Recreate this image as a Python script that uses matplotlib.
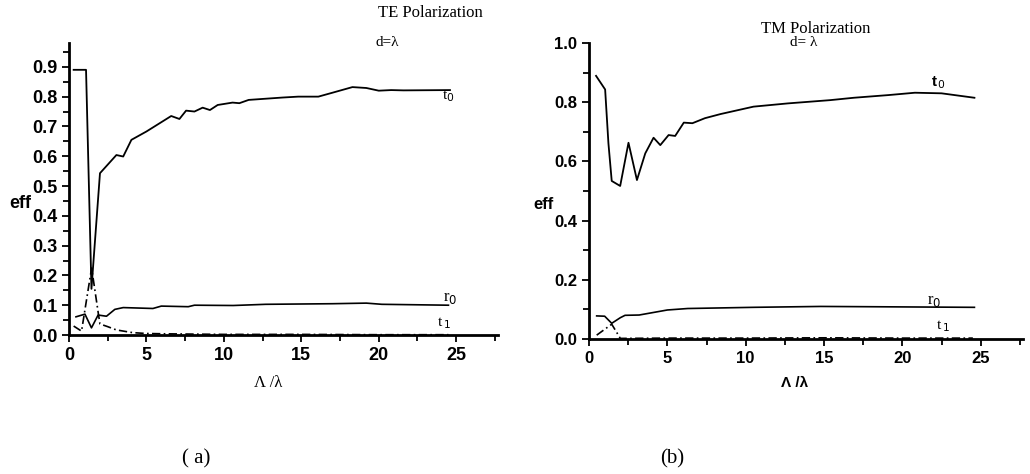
import matplotlib.pyplot as plt
from matplotlib.ticker import MultipleLocator

# TE polarization (a)
te_t0_x = [0.3, 1.1, 1.45, 2.0, 3.06, 3.5, 4.03, 5.0, 6.6, 7.13, 7.56, 8.1, 8.63, 9.1, 9.6,
           10.56, 11.0, 11.6, 12.7, 13.8, 14.8, 16.1, 17.0, 18.3, 19.2, 20.0, 20.8, 21.6, 24.6]
te_t0_y = [0.89, 0.89, 0.155, 0.543, 0.604, 0.599, 0.655, 0.683, 0.735, 0.725, 0.753, 0.75, 0.763, 0.755, 0.772,
           0.78, 0.778, 0.789, 0.793, 0.797, 0.80, 0.80, 0.813, 0.832, 0.829, 0.82, 0.822, 0.821, 0.822]
te_r0_x = [0.45, 1.03, 1.45, 1.88, 2.42, 2.96, 3.5, 5.42, 5.96, 7.7, 8.1, 10.6, 12.7, 17.0, 19.2, 20.2, 24.5]
te_r0_y = [0.061, 0.07, 0.024, 0.067, 0.063, 0.086, 0.092, 0.089, 0.097, 0.095, 0.10, 0.099, 0.103, 0.105, 0.107, 0.103, 0.10]
te_t1_x = [0.3, 0.81, 1.46, 1.9, 2.0, 2.5, 3.06, 4.1, 5.0, 6.2, 8.0, 10.0, 15.0, 20.0, 24.5]
te_t1_y = [0.03, 0.013, 0.225, 0.07, 0.037, 0.028, 0.017, 0.008, 0.005, 0.004, 0.003, 0.002, 0.002, 0.001, 0.001]

# TM polarization (b)
tm_t0_x = [0.45, 1.03, 1.24, 1.45, 1.99, 2.52, 3.06, 3.59, 4.12, 4.55, 5.08, 5.5, 6.05, 6.6, 7.4,
           8.4, 10.5, 12.7, 15.4, 16.9, 19.1, 20.8, 22.5, 24.6]
tm_t0_y = [0.889, 0.843, 0.661, 0.534, 0.517, 0.663, 0.537, 0.627, 0.68, 0.655, 0.689, 0.686, 0.731, 0.729, 0.746,
           0.76, 0.785, 0.796, 0.807, 0.815, 0.824, 0.832, 0.83, 0.815]
tm_r0_x = [0.49, 1.0, 1.45, 2.0, 2.3, 3.2, 5.0, 6.3, 10.5, 14.8, 24.6]
tm_r0_y = [0.078, 0.077, 0.053, 0.072, 0.08, 0.081, 0.098, 0.103, 0.107, 0.11, 0.107]
tm_t1_x = [0.49, 1.45, 2.0, 5.0, 10.0, 15.0, 20.0, 24.5]
tm_t1_y = [0.013, 0.05, 0.002, 0.003, 0.003, 0.004, 0.003, 0.003]

fig = plt.figure(figsize=(10.3, 4.74), dpi=100)
serif = 'Liberation Serif'
sans = 'Liberation Sans'


def style_axes(ax, ymax, ymajor, yminor, lsize):
    ax.set_xlim(0, 27.7)
    ax.set_ylim(0, ymax)
    for s in ['top', 'right']:
        ax.spines[s].set_visible(False)
    for s in ['left', 'bottom']:
        ax.spines[s].set_linewidth(2)
    ax.xaxis.set_major_locator(MultipleLocator(5))
    ax.xaxis.set_minor_locator(MultipleLocator(2.5))
    ax.yaxis.set_major_locator(MultipleLocator(ymajor))
    ax.yaxis.set_minor_locator(MultipleLocator(yminor))
    ax.yaxis.set_major_formatter('{x:.1f}')
    ax.tick_params(which='both', direction='out', width=1.3)
    ax.tick_params(which='major', length=5, labelsize=lsize)
    ax.tick_params(which='minor', length=4)
    for lab in ax.get_xticklabels() + ax.get_yticklabels():
        lab.set_fontfamily(sans)
        lab.set_fontweight('bold')


# (a) TE
ax1 = fig.add_axes([69 / 1030, 1 - 335 / 474, (498 - 69) / 1030, (335 - 43) / 474])
ax1.plot(te_t0_x, te_t0_y, color='black', lw=1.3)
ax1.plot(te_r0_x, te_r0_y, color='black', lw=1.2)
ax1.plot(te_t1_x, te_t1_y, color='black', lw=1.2, ls=(0, (5, 2, 1, 2)))
style_axes(ax1, 0.98, 0.1, 0.05, 13)
ax1.text(24.5, 0.80, 't$_{0}$', fontsize=11, family=serif, ha='center', va='center')
ax1.text(24.6, 0.125, 'r$_{0}$', fontsize=12, family=serif, ha='center', va='center')
ax1.text(24.2, 0.04, 't$_{\\,1}$', fontsize=11, family=serif, ha='center', va='center')

# (b) TM
ax2 = fig.add_axes([589 / 1030, 1 - 339 / 474, (1023 - 589) / 1030, (339 - 43) / 474])
ax2.plot(tm_t0_x, tm_t0_y, color='black', lw=1.3)
ax2.plot(tm_r0_x, tm_r0_y, color='black', lw=1.2)
ax2.plot(tm_t1_x, tm_t1_y, color='black', lw=1.2, ls=(0, (5, 2, 1, 2)))
style_axes(ax2, 1.0, 0.2, 0.1, 12)
ax2.text(22.3, 0.865, 't$_{\\,0}$', fontsize=11, family=sans, fontweight='bold', ha='center', va='center')
ax2.text(22.0, 0.13, 'r$_{0}$', fontsize=12, family=serif, ha='center', va='center')
ax2.text(22.6, 0.045, 't$_{\\,1}$', fontsize=11, family=serif, ha='center', va='center')


# axis labels and titles in figure pixels
def ftext(x, y, s, **kw):
    fig.text(x / 1030, 1 - y / 474, s, ha='center', va='center', **kw)


ftext(20, 203, 'eff', fontsize=13, family=sans, fontweight='bold')
ftext(544, 205, 'eff', fontsize=12, family=sans, fontweight='bold')
ftext(268, 383, 'Λ /λ', fontsize=12, family=serif)
ftext(795, 383, 'Λ /λ', fontsize=11, family=sans, fontweight='bold')
ftext(430, 13, 'TE Polarization', fontsize=12, family=serif)
ftext(387, 43, 'd=λ', fontsize=11, family=serif)
ftext(816, 29, 'TM Polarization', fontsize=12, family=serif)
ftext(804, 43, 'd= λ', fontsize=11, family=serif)
ftext(196, 459, '( a)', fontsize=15, family=serif)
ftext(672, 459, '(b)', fontsize=15, family=serif)

fig.savefig('out.png', dpi=100)
